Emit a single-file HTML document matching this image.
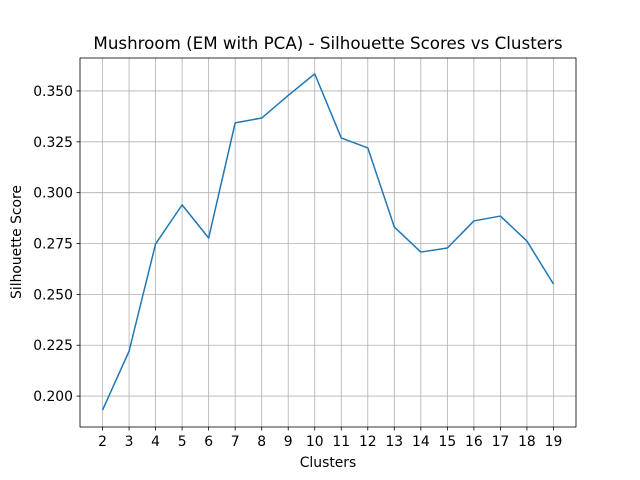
<!DOCTYPE html>
<html><head><meta charset="utf-8"><style>
body{margin:0;background:#fff;}
svg{display:block;font-family:"DejaVu Sans","Liberation Sans",sans-serif;}
</style></head><body>
<svg id="chart" width="640" height="480" xmlns="http://www.w3.org/2000/svg">
<rect width="640" height="480" fill="#fff"/>
<g id="grid"></g>
<g id="ticks"></g>
<path id="line" fill="none" stroke="#1f77b4" stroke-width="1.5" stroke-linejoin="round"/>
<rect x="80" y="58" width="496" height="369" fill="none" stroke="#000" stroke-width="0.8"/>
<text x="328" y="49" text-anchor="middle" font-size="16.7">Mushroom (EM with PCA) - Silhouette Scores vs Clusters</text>
<text x="328" y="467" text-anchor="middle" font-size="13.9">Clusters</text>
<text transform="translate(21,242) rotate(-90)" text-anchor="middle" font-size="13.9">Silhouette Score</text>
</svg>
<script>
const clusters=[2,3,4,5,6,7,8,9,10,11,12,13,14,15,16,17,18,19];
const scores=[0.1931,0.2221,0.2748,0.2940,0.2777,0.3343,0.3367,0.3478,0.3584,0.3269,0.3220,0.2831,0.2708,0.2728,0.2861,0.2885,0.2762,0.2551];
const yTicks=[0.200,0.225,0.250,0.275,0.300,0.325,0.350];
const ns="http://www.w3.org/2000/svg";
const L=80,R=576,T=58,B=427;
const xmin=1.15,xmax=19.85,ymin=0.1848,ymax=0.3662;
const xs=v=>L+(v-xmin)/(xmax-xmin)*(R-L);
const ys=v=>B-(v-ymin)/(ymax-ymin)*(B-T);
const grid=document.getElementById('grid'),ticks=document.getElementById('ticks');
function mk(tag,attrs,parent){const e=document.createElementNS(ns,tag);for(const k in attrs)e.setAttribute(k,attrs[k]);parent.appendChild(e);return e;}
clusters.forEach(c=>{
  const x=xs(c);
  const g=mk('line',{x1:x,x2:x,y1:T,y2:B,stroke:'#b0b0b0','stroke-width':0.8},grid);
  
  
  mk('line',{x1:x,x2:x,y1:B,y2:B+3.5,stroke:'#000','stroke-width':0.8},ticks);
  const t=mk('text',{x:x,y:B+19,'text-anchor':'middle','font-size':13.9},ticks);
  t.textContent=c;
  
  
});
yTicks.forEach(v=>{
  const y=ys(v);
  const g=mk('line',{x1:L,x2:R,y1:y,y2:y,stroke:'#b0b0b0','stroke-width':0.8},grid);
  
  
  mk('line',{x1:L-3.5,x2:L,y1:y,y2:y,stroke:'#000','stroke-width':0.8},ticks);
  const t=mk('text',{x:L-7,y:y+5,'text-anchor':'end','font-size':13.9},ticks);
  t.textContent=v.toFixed(3);
  
  
});
document.getElementById('line').setAttribute('d',clusters.map((c,i)=>(i?'L':'M')+xs(c).toFixed(2)+','+ys(scores[i]).toFixed(2)).join(''));
</script>
</body></html>
